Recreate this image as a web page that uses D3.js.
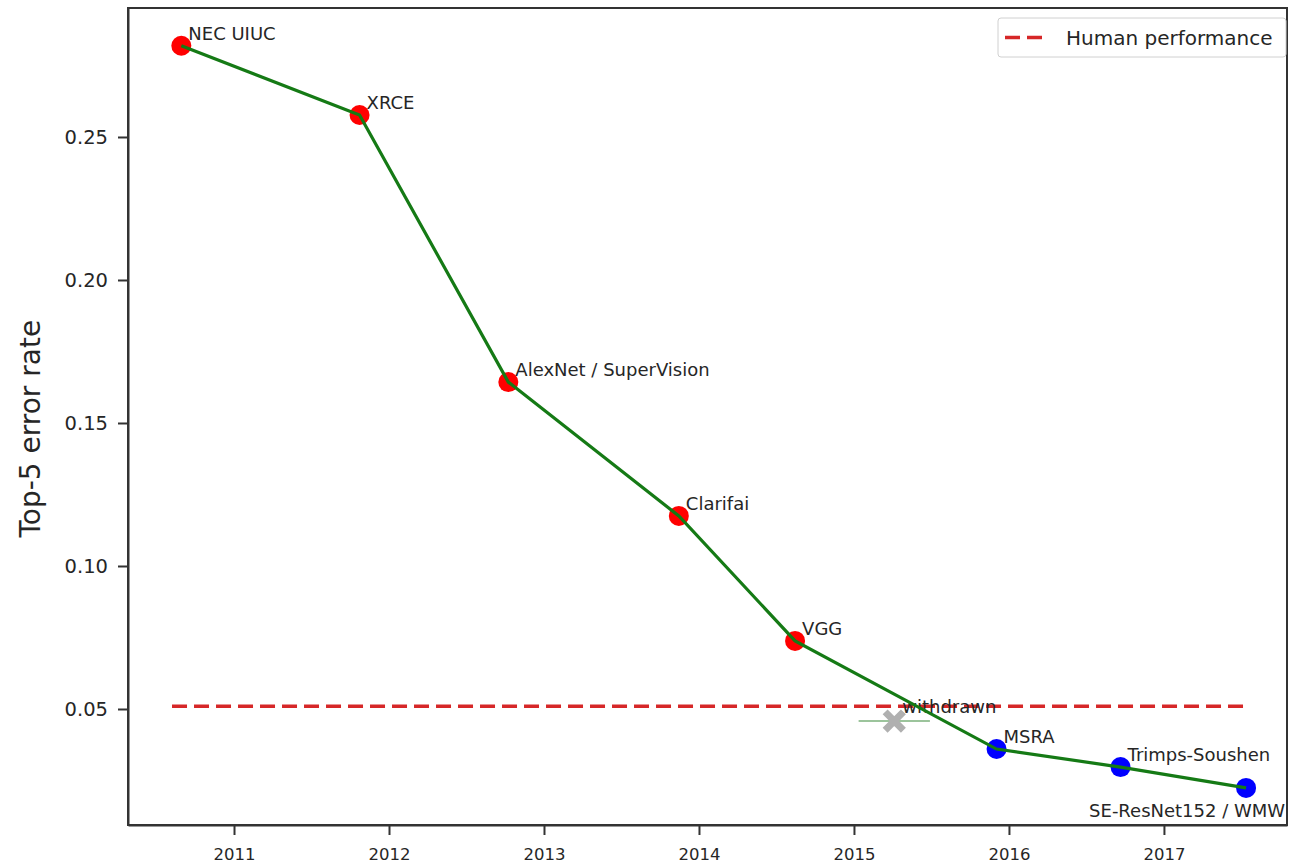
<!DOCTYPE html>
<html lang="en">
<head>
  <meta charset="UTF-8">
  <title>ImageNet top-5 error</title>
  <script src="https://d3js.org/d3.v7.min.js"></script>
  <style>
  body {
    margin: 0;
    background: #fff;
  }
  text {
    font-family: "DejaVu Sans", sans-serif;
    fill: #262626;
  }
  .axis path,
  .axis line {
    fill: none;
    stroke: #333;
    stroke-width: 2px;
  }
  .line {
    fill: none;
    stroke: #157a15;
    stroke-width: 3.2px;
  }
  </style>
</head>
<body>
  <div class="container"></div>
  <script>
  // winners of each year
  var names  = ["NEC UIUC", "XRCE", "AlexNet / SuperVision", "Clarifai", "VGG", "MSRA", "Trimps-Soushen", "SE-ResNet152 / WMW"];
  var years  = [2010.66, 2011.81, 2012.77, 2013.87, 2014.62, 2015.92, 2016.72, 2017.53];
  var errors = [0.2819, 0.2577, 0.1643, 0.1175, 0.0738, 0.0360, 0.0297, 0.0224];
  var colors = ["red", "red", "red", "red", "red", "blue", "blue", "blue"];

  // the withdrawn entry
  var withdrawnYear = 2015.26, withdrawnErr = 0.0458, withdrawnXerr = 0.23;

  var humanError = 0.051;
  var humanYears = [2010.6, 2017.55];

  var xTicks = [2011, 2012, 2013, 2014, 2015, 2016, 2017];
  var yTicks = [0.05, 0.10, 0.15, 0.20, 0.25];

  var w = 1289, h = 865,
      margin = {top: 8, right: 2, bottom: 40, left: 128};
  var g_w = w - margin.left - margin.right,
      g_h = h - margin.top - margin.bottom;

  var xScale = d3.scaleLinear()
                 .domain([2010.316, 2017.794])
                 .range([0, g_w]);
  var yScale = d3.scaleLinear()
                 .domain([0.00944, 0.2951])
                 .range([g_h, 0]);

  var svg = d3.select('.container')
          .append('svg')
          .attr("width", w)
          .attr("height", h);
  var g = svg.append('g')
          .attr('transform', 'translate(' + margin.left + ',' + margin.top + ')');

  // axes
  var xAxis = d3.axisBottom(xScale).tickValues(xTicks).tickFormat(d3.format("d"))
                .tickSize(10).tickSizeOuter(0).tickPadding(13);
  var yAxis = d3.axisLeft(yScale).tickValues(yTicks).tickFormat(d3.format(".2f"))
                .tickSize(10).tickSizeOuter(0).tickPadding(10);
  g.append('g').attr("class", "x axis")
      .attr('transform', 'translate(0,' + g_h + ')')
      .call(xAxis)
      .selectAll('text').style('font-size', '16.5px');
  g.append('g').attr("class", "y axis")
      .call(yAxis)
      .selectAll('text').style('font-size', '19.5px');

  // frame
  g.append('rect')
      .attr('width', g_w).attr('height', g_h)
      .attr('fill', 'none')
      .attr('stroke', '#333')
      .attr('stroke-width', 2);

  svg.append('text')
      .text('Top-5 error rate')
      .attr('transform', 'translate(40,' + (margin.top + yScale(0.148)) + ') rotate(-90)')
      .attr('text-anchor', 'middle')
      .style('font-size', '28px');

  // human performance
  g.append('line')
      .attr('x1', xScale(humanYears[0])).attr('x2', xScale(humanYears[1]))
      .attr('y1', yScale(humanError)).attr('y2', yScale(humanError))
      .attr('stroke', '#d62728')
      .attr('stroke-width', 3.5)
      .attr('stroke-dasharray', '15,7');

  // withdrawn result with error bar
  g.append('line')
      .attr('x1', xScale(withdrawnYear - withdrawnXerr)).attr('x2', xScale(withdrawnYear + withdrawnXerr))
      .attr('y1', yScale(withdrawnErr)).attr('y2', yScale(withdrawnErr))
      .attr('stroke', '#9cc49c')
      .attr('stroke-width', 2);
  g.append('path')
      .attr('d', d3.symbol().type(d3.symbolX).size(220)())
      .attr('transform', 'translate(' + xScale(withdrawnYear) + ',' + yScale(withdrawnErr) + ')')
      .attr('fill', 'none')
      .attr('stroke', '#b0b0b0')
      .attr('stroke-width', 7);
  g.append('text')
      .text('withdrawn')
      .attr('x', xScale(withdrawnYear) + 8)
      .attr('y', yScale(withdrawnErr) - 8)
      .style('font-size', '18px');

  // markers under the line
  g.selectAll('circle.pt')
      .data(errors)
      .enter().append('circle')
      .attr('class', 'pt')
      .attr('cx', function(d, i) { return xScale(years[i]); })
      .attr('cy', function(d) { return yScale(d); })
      .attr('r', 10)
      .attr('fill', function(d, i) { return colors[i]; });

  var line_generator = d3.line()
      .x(function(d, i) { return xScale(years[i]); })
      .y(function(d) { return yScale(d); });
  g.append('path')
      .attr('class', 'line')
      .attr('d', line_generator(errors));

  // last label sits below its point, the rest above-right
  g.selectAll('text.lbl')
      .data(names)
      .enter().append('text')
      .attr('class', 'lbl')
      .text(function(d) { return d; })
      .attr('x', function(d, i) { return xScale(years[i]) + (i === names.length - 1 ? -157 : 7); })
      .attr('y', function(d, i) { return yScale(errors[i]) + (i === names.length - 1 ? 29 : -6); })
      .style('font-size', '18px');

  // legend
  var lg = svg.append('g').attr('transform', 'translate(998,18)');
  lg.append('rect')
      .attr('width', 288).attr('height', 39).attr('rx', 3)
      .attr('fill', '#fff').attr('stroke', '#d0d0d0');
  lg.append('line')
      .attr('x1', 7).attr('x2', 50).attr('y1', 19.5).attr('y2', 19.5)
      .attr('stroke', '#d62728').attr('stroke-width', 3.5)
      .attr('stroke-dasharray', '15,7');
  lg.append('text')
      .text('Human performance')
      .attr('x', 68).attr('y', 27)
      .style('font-size', '20px');
  </script>
</body>
</html>
